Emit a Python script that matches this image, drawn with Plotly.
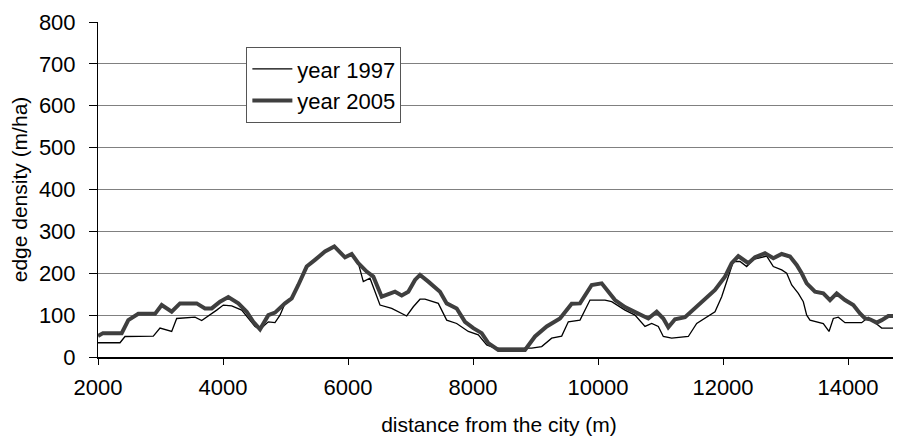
import plotly.graph_objects as go

x_1997 = [2000, 2352, 2432, 2885, 2992, 3179, 3259, 3552, 3659, 3792, 3899, 4005, 4139, 4299, 4405, 4512,
          4592, 4725, 4832, 4912, 4992, 5099, 5205, 5339, 5472, 5632, 5781, 5952, 6059, 6165, 6245, 6352,
          6512, 6699, 6939, 7045, 7152, 7232, 7445, 7579, 7739, 7925, 8085, 8219, 8352, 8939, 9099, 9259,
          9419, 9525, 9712, 9872, 10112, 10219, 10432, 10592, 10752, 10859, 10965, 11045, 11179, 11445,
          11579, 11739, 11872, 11979, 12085, 12165, 12272, 12379, 12485, 12699, 12805, 12939, 13019, 13099,
          13205, 13285, 13339, 13392, 13605, 13696, 13765, 13845, 13952, 14219, 14325, 14539, 14832]
y_1997 = [34, 34, 49, 50, 69, 61, 92, 95, 87, 100, 112, 124, 122, 112, 92, 73,
          66, 84, 82, 100, 128, 140, 172, 216, 232, 252, 262, 238, 246, 224, 180, 188,
          124, 116, 98, 120, 138, 138, 128, 88, 80, 61, 53, 29, 21, 21, 25, 45,
          50, 84, 88, 136, 136, 132, 112, 100, 73, 80, 73, 49, 45, 49,
          80, 95, 108, 144, 192, 228, 228, 216, 233, 241, 216, 208, 200, 172,
          152, 132, 100, 88, 80, 61, 92, 95, 82, 82, 95, 69, 69]

x_2005 = [2000, 2080, 2379, 2485, 2645, 2912, 3019, 3179, 3312, 3579, 3712, 3819, 3952, 4085, 4245, 4379,
          4485, 4592, 4725, 4832, 4992, 5099, 5205, 5339, 5472, 5632, 5781, 5952, 6059, 6165, 6299, 6405,
          6539, 6672, 6752, 6859, 6965, 7072, 7152, 7285, 7472, 7579, 7739, 7872, 8005, 8139, 8245, 8405,
          8832, 8992, 9179, 9392, 9579, 9712, 9899, 10059, 10272, 10432, 10592, 10805, 10939, 11045, 11125,
          11232, 11392, 11552, 11712, 11872, 12032, 12139, 12245, 12405, 12512, 12672, 12805, 12939, 13072,
          13179, 13259, 13339, 13472, 13605, 13712, 13819, 13952, 14085, 14192, 14272, 14352, 14459, 14539,
          14645, 14832]
y_2005 = [50, 57, 57, 88, 103, 103, 124, 108, 128, 128, 116, 116, 132, 143, 128, 108,
          84, 66, 100, 106, 128, 140, 172, 216, 232, 252, 264, 238, 246, 224, 204, 192,
          144, 152, 156, 147, 156, 184, 196, 180, 156, 128, 116, 84, 69, 57, 33, 17,
          17, 49, 73, 92, 127, 128, 172, 176, 136, 119, 108, 92, 108, 92, 71,
          90, 95, 116, 136, 160, 192, 224, 241, 224, 238, 248, 236, 246, 240,
          220, 200, 176, 156, 152, 136, 152, 136, 124, 104, 92, 90, 82, 88,
          98, 98]

x_ticks = [2000, 4000, 6000, 8000, 10000, 12000, 14000]
x_tick_labels = ["2000", "4000", "6000", "8000", "10000", "12000", "14000"]
y_ticks = [0, 100, 200, 300, 400, 500, 600, 700, 800]

FONT = "Liberation Sans, Arial, sans-serif"
FS = 22

fig = go.Figure()
fig.add_trace(go.Scatter(x=x_1997, y=y_1997, mode="lines", name="year 1997",
                         line=dict(color="#000000", width=1.3)))
fig.add_trace(go.Scatter(x=x_2005, y=y_2005, mode="lines", name="year 2005",
                         line=dict(color="#3f3f3f", width=4)))

# the page body has an 8px margin, so the figure is sized/offset to compensate
fig.update_layout(
    width=893, height=429,
    margin=dict(l=90, r=1, t=14, b=80),
    paper_bgcolor="white", plot_bgcolor="white",
    font=dict(family=FONT, size=FS, color="#000000"),
    showlegend=True,
    legend=dict(x=0.185, y=0.925, xanchor="left", yanchor="top",
                bgcolor="white", bordercolor="#555555", borderwidth=1,
                font=dict(family=FONT, size=FS, color="#000000"),
                tracegroupgap=0, itemwidth=40),
)
fig.update_xaxes(
    range=[2000, 14832], tickvals=x_ticks, ticktext=x_tick_labels, automargin=False,
    showgrid=False, zeroline=False, showline=True, linecolor="#000000", linewidth=2,
    ticks="outside", ticklen=6, tickcolor="#000000", ticklabelstandoff=4,
    title=dict(text="distance from the city (m)", font=dict(family=FONT, size=21), standoff=18),
    tickfont=dict(family=FONT, size=FS),
)
fig.update_yaxes(
    range=[0, 800], tickvals=y_ticks, automargin=False,
    showgrid=True, gridcolor="#808080", gridwidth=1, zeroline=False,
    showline=True, linecolor="#000000", linewidth=1,
    ticks="outside", ticklen=8, tickcolor="#000000", ticklabelstandoff=9,
    title=dict(text="edge density (m/ha)", font=dict(family=FONT, size=21), standoff=10),
    tickfont=dict(family=FONT, size=FS),
)

fig.write_html("out.html")
